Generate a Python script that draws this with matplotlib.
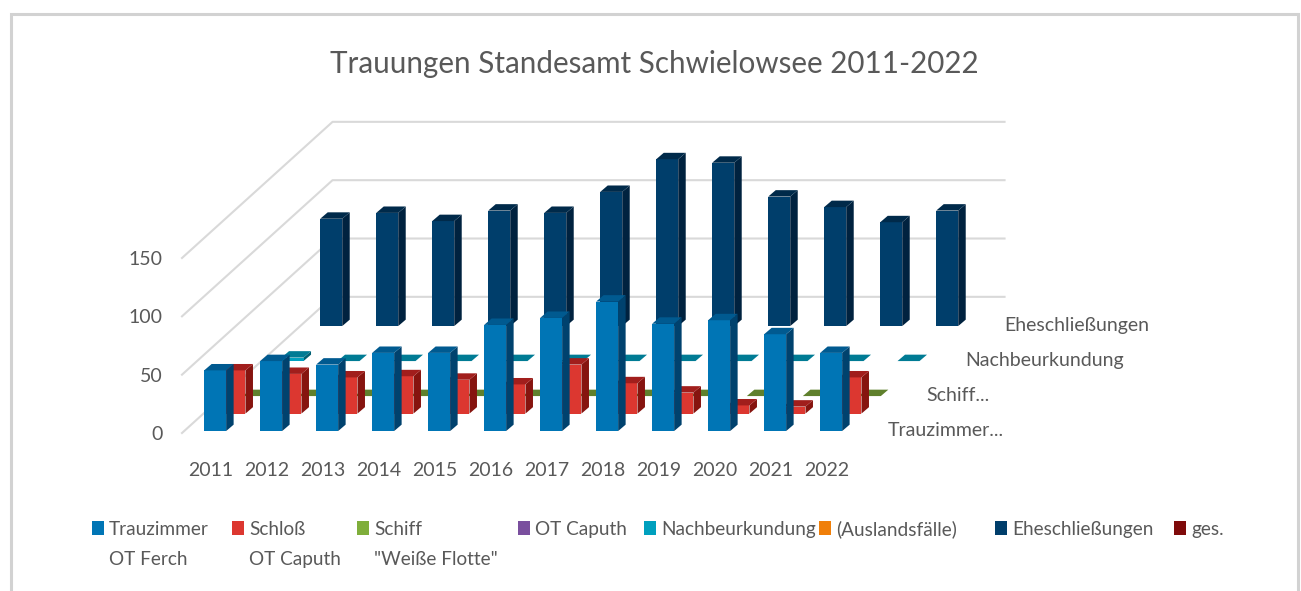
import matplotlib.pyplot as plt
from matplotlib.patches import Polygon, Rectangle

plt.rcParams['font.family'] = ['Lato', 'DejaVu Sans']

years = [2011, 2012, 2013, 2014, 2015, 2016, 2017, 2018, 2019, 2020, 2021, 2022]
trauzimmer = [52, 60, 57, 67, 67, 91, 97, 111, 92, 95, 83, 67]
schloss = [37, 34, 31, 32, 29, 25, 42, 26, 18, 7, 6, 31]
schiff = [0, 0, 0, 0, 0, 0, 0, 0, 0, 0, 0, 0]
caputh = [None] * 12
nachbeurkundung = [3, 0, 0, 0, 0, 0, 0, 0, 0, 0, 0, 0]
ausland = [None] * 12
ehe = [92, 97, 90, 99, 97, 115, 143, 140, 111, 102, 89, 99]
ges = [None] * 12

series_values = [trauzimmer, schloss, schiff, caputh, nachbeurkundung, ausland, ehe, ges]
value_ticks = [0, 50, 100, 150]
depth_labels = {0: 'Trauzimmer...', 2: 'Schiff...', 4: 'Nachbeurkundung', 6: 'Eheschließungen'}

# front, top, side
shades = [
    ('#0075B5', '#005A90', '#00426E'),
    ('#DC3730', '#A11E1C', '#86140F'),
    ('#7FAE3B', '#5F802C', '#4C6A22'),
    ('#7A4F9E', '#5E3C7A', '#4A2F60'),
    ('#00A0BE', '#007B94', '#005F72'),
    ('#F07F09', '#BE6407', '#954E05'),
    ('#003E6B', '#002A4A', '#00223F'),
    ('#7F0A0A', '#5F0707', '#4A0505'),
]
legend_colors = ['#0075B5', '#DC3730', '#7FAE3B', '#7A4F9E', '#00A0BE', '#F07F09', '#003E6B', '#7F0A0A']
legend_names = ['Trauzimmer\nOT Ferch', 'Schloß\nOT Caputh', 'Schiff\n"Weiße Flotte"', 'OT Caputh',
                'Nachbeurkundung', '(Auslandsfälle)', 'Eheschließungen', 'ges.']
legend_x = [92, 232, 357, 518, 644, 819, 995, 1174]

text_col = '#595959'
grid_col = '#D9D9D9'

# one category is 56 px, one value unit 1.167 px, zero of the axis at (182, 433)
W, H = 1301, 591
PITCH, UNIT, X0, Y0 = 56.0, 1.1667, 182.0, 433.0
DX, DY = 19.35 / PITCH, 15.0    # shift per depth slot
SX, SY = 7.5 / PITCH, 5.5       # thickness of a bar
BAR_L, BAR_W = 20.0 / PITCH, 22.0 / PITCH
D0, DMAX = 0.11, 7.78


def project(col, val, depth):
    return col + depth * DX, val + depth * DY


def draw_bar(ax, i, val, depth, colors, z):
    l, r = i + BAR_L, i + BAR_L + BAR_W
    front = [project(l, 0, depth), project(r, 0, depth), project(r, val, depth), project(l, val, depth)]
    top = [project(l, val, depth), project(r, val, depth),
           (project(r, val, depth)[0] + SX, project(r, val, depth)[1] + SY),
           (project(l, val, depth)[0] + SX, project(l, val, depth)[1] + SY)]
    side = [project(r, 0, depth), (project(r, 0, depth)[0] + SX, project(r, 0, depth)[1] + SY),
            (project(r, val, depth)[0] + SX, project(r, val, depth)[1] + SY), project(r, val, depth)]
    if val > 0:
        ax.add_patch(Polygon(side, fc=colors[2], ec='none', zorder=z))
        ax.add_patch(Polygon(front, fc=colors[0], ec='none', zorder=z))
    ax.add_patch(Polygon(top, fc=colors[1], ec='none', zorder=z))


fig = plt.figure(figsize=(W / 100, H / 100), dpi=100)

over = fig.add_axes([0, 0, 1, 1])
over.set_xlim(0, W)
over.set_ylim(H, 0)
over.axis('off')
over.plot([11, 11, 1298, 1298], [H, 14, 14, H], color='#D2D2D2', lw=2.2, solid_joinstyle='miter')
over.text(654.5, 61, 'Trauungen Standesamt Schwielowsee 2011-2022', color=text_col, fontsize=21.3,
          ha='center', va='center_baseline')
for c, name, x in zip(legend_colors, legend_names, legend_x):
    over.add_patch(Rectangle((x, 521), 12, 14, fc=c, ec='none'))
    for k, line in enumerate(name.split('\n')):
        over.text(x + 17, 528 + 30 * k, line, color=text_col, fontsize=13.7, ha='left', va='center_baseline')

ax = fig.add_axes([0, 0, 1, 1])
ax.patch.set_alpha(0)
ax.set_xlim(-X0 / PITCH, (W - X0) / PITCH)
ax.set_ylim((Y0 - H) / UNIT, Y0 / UNIT)
ax.axis('off')

for v in value_ticks:
    xs = [project(0, v, 0)[0], project(0, v, DMAX)[0], project(12, v, DMAX)[0]]
    ys = [project(0, v, 0)[1], project(0, v, DMAX)[1], project(12, v, DMAX)[1]]
    ax.plot(xs, ys, color=grid_col, lw=1.5, zorder=1)
    ax.text(-0.34, v, str(v), color=text_col, fontsize=14, ha='right', va='center_baseline')

for k in range(len(series_values) - 1, -1, -1):
    for i in range(len(years)):
        val = series_values[k][i]
        if val is not None:
            draw_bar(ax, i, val, D0 + k, shades[k], 10 + (8 - k) * 20 + i)

for i, y in enumerate(years):
    ax.text(i + 0.518, -31, str(y), color=text_col, fontsize=14, ha='center', va='center_baseline')

for k, name in depth_labels.items():
    px, py = project(12.57, 2, D0 + k)
    ax.text(px, py, name, color=text_col, fontsize=14, ha='left', va='center_baseline')

fig.savefig('out.png', dpi=100)
